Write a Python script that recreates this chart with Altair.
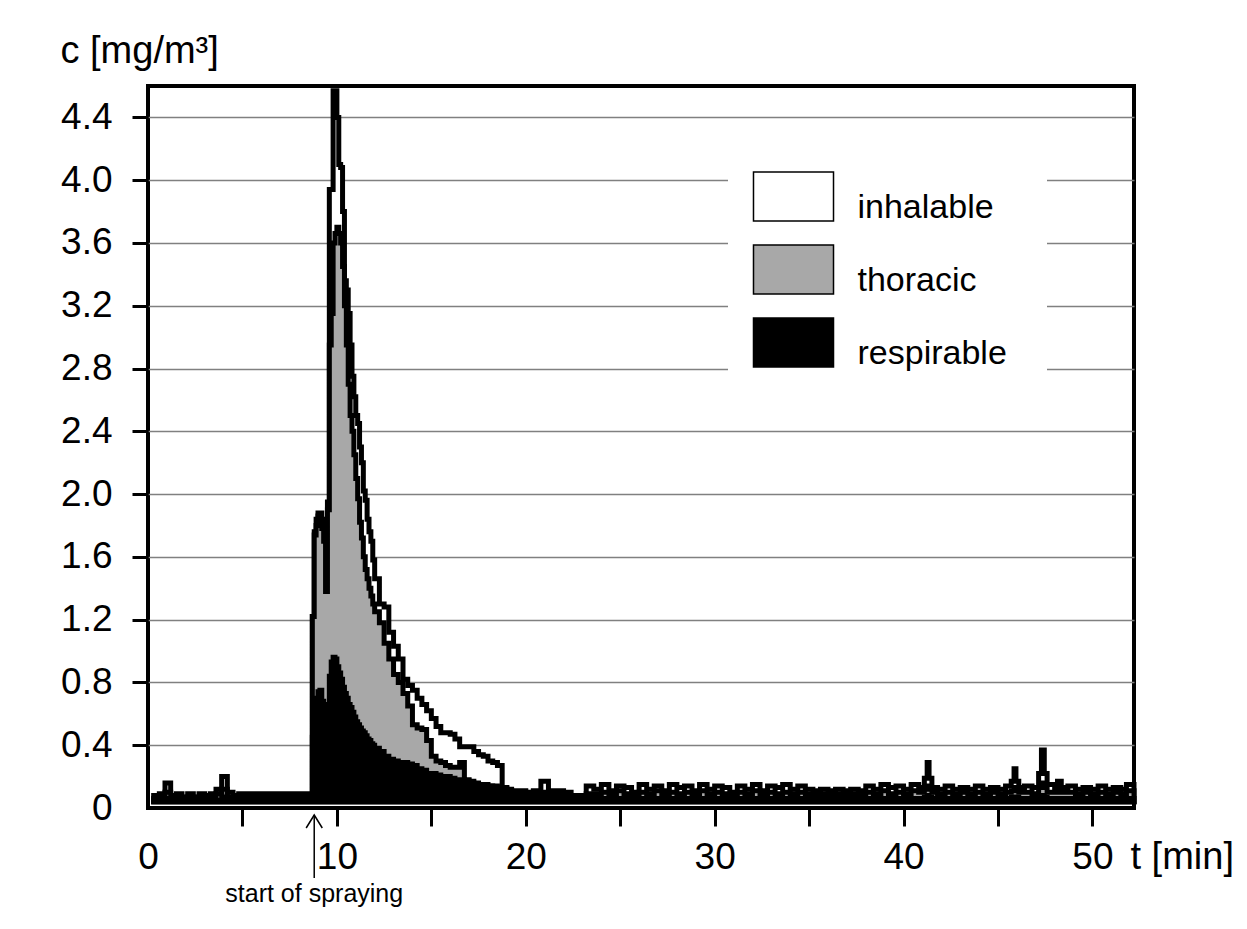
import altair as alt
import pandas as pd

FONT = "Liberation Sans"

# ---- time grid (minutes) ----
t_pre = [0.3, 0.6, 0.9, 1.2, 1.5, 1.8, 2.1, 2.4, 2.7, 3.0, 3.3, 3.6, 3.9, 4.2,
         4.5, 4.8, 5.1, 5.4, 5.7, 6.0, 6.3, 6.6, 6.9, 7.2, 7.5, 7.8, 8.1, 8.4]
t_spray = [8.7, 8.8, 8.9, 9.0, 9.1, 9.2, 9.3, 9.4, 9.5, 9.6, 9.7, 9.8, 9.9, 10.0,
           10.1, 10.2, 10.3, 10.4, 10.5, 10.6, 10.7, 10.8, 10.9, 11.0, 11.1, 11.2,
           11.3, 11.4, 11.5, 11.6, 11.7, 11.8, 11.9, 12.0]
t_decay = [12.25, 12.5, 12.75, 13.0, 13.25, 13.5, 13.75, 14.0, 14.25, 14.5, 14.75,
           15.0, 15.25, 15.5, 15.75, 16.0, 16.25, 16.5, 16.75, 17.0, 17.25, 17.5,
           17.75, 18.0, 18.25, 18.5, 18.75, 19.0, 19.25, 19.5, 19.75, 20.0]
t_tail = [20.4, 20.8, 21.2, 21.6, 22.0, 22.4, 22.8, 23.2, 23.6, 24.0, 24.4, 24.8,
          25.2, 25.6, 26.0, 26.4, 26.8, 27.2, 27.6, 28.0, 28.4, 28.8, 29.2, 29.6,
          30.0, 30.4, 30.8, 31.2, 31.6, 32.0, 32.4, 32.8, 33.2, 33.6, 34.0, 34.4,
          34.8, 35.2, 35.6, 36.0, 36.4, 36.8, 37.2, 37.6, 38.0, 38.4, 38.8, 39.2,
          39.6, 40.0, 40.4, 40.8, 41.1, 41.25, 41.35, 41.5, 41.8, 42.2, 42.6, 43.0,
          43.4, 43.8, 44.2, 44.6, 45.0, 45.4, 45.7, 45.85, 45.95, 46.1, 46.4, 46.8,
          47.15, 47.3, 47.45, 47.6, 48.0, 48.15, 48.35, 48.7, 49.1, 49.5, 49.9,
          50.3, 50.7, 51.1, 51.5, 51.8, 52.2]
time_min = t_pre + t_spray + t_decay + t_tail

# ---- concentrations c [mg/m3] ----
inhalable = [
    0.08, 0.09, 0.16, 0.08, 0.09, 0.07, 0.09, 0.07, 0.09, 0.08, 0.09, 0.12, 0.20, 0.10,
    0.08, 0.09, 0.09, 0.09, 0.09, 0.09, 0.09, 0.09, 0.09, 0.09, 0.09, 0.09, 0.09, 0.09,
    1.22, 1.76, 1.84, 1.88, 1.88, 1.84, 1.80, 1.40, 1.95, 3.94, 3.94, 4.57, 4.57, 4.40,
    4.10, 4.08, 3.80, 3.36, 3.30, 3.15, 2.95, 2.75, 2.62, 2.50, 2.45, 2.30, 2.20, 2.02,
    1.96, 1.84, 1.76, 1.70, 1.58, 1.46,
    1.30, 1.28, 1.12, 1.03, 0.95, 0.82, 0.78, 0.75, 0.70, 0.66, 0.62, 0.57, 0.52, 0.48,
    0.48, 0.47, 0.44, 0.39, 0.39, 0.39, 0.36, 0.34, 0.33, 0.30, 0.29, 0.27, 0.13, 0.12,
    0.11, 0.10, 0.11, 0.10,
    0.11, 0.17, 0.11, 0.11, 0.10, 0.08, 0.08, 0.14,
    0.12, 0.15, 0.11, 0.14, 0.13, 0.10, 0.15, 0.12, 0.14, 0.11,
    0.15, 0.13, 0.14, 0.11, 0.15, 0.12, 0.14, 0.13, 0.10, 0.14,
    0.12, 0.15, 0.11, 0.14, 0.13, 0.15, 0.12, 0.14, 0.12, 0.11,
    0.12, 0.11, 0.12, 0.11, 0.12, 0.11, 0.14, 0.12, 0.15, 0.13,
    0.14, 0.12, 0.15, 0.13,
    0.19, 0.29, 0.19, 0.13,
    0.12, 0.14, 0.12, 0.13, 0.12, 0.14, 0.12, 0.13, 0.12, 0.14,
    0.17, 0.25, 0.17, 0.13,
    0.14, 0.13,
    0.22, 0.37, 0.22, 0.15,
    0.13, 0.17, 0.13,
    0.14, 0.12, 0.13, 0.12, 0.14, 0.12, 0.13, 0.12, 0.15, 0.13,
]
thoracic = [
    0.06, 0.07, 0.10, 0.06, 0.07, 0.06, 0.07, 0.06, 0.07, 0.06, 0.07, 0.09, 0.12, 0.07,
    0.06, 0.08, 0.08, 0.08, 0.08, 0.08, 0.08, 0.08, 0.08, 0.08, 0.08, 0.08, 0.08, 0.08,
    1.22, 1.74, 1.80, 1.86, 1.84, 1.78, 1.70, 1.38, 1.90, 2.95, 3.15, 3.60, 3.66, 3.70,
    3.66, 3.60, 3.45, 3.20, 2.95, 2.70, 2.50, 2.40, 2.25, 2.10, 1.97, 1.82, 1.72, 1.60,
    1.52, 1.46, 1.40, 1.35, 1.30, 1.25,
    1.18, 1.05, 0.95, 0.85, 0.80, 0.73, 0.65, 0.53, 0.51, 0.50, 0.43, 0.33, 0.30, 0.29,
    0.27, 0.26, 0.26, 0.29, 0.18, 0.17, 0.16, 0.15, 0.15, 0.14, 0.14, 0.13, 0.12, 0.11,
    0.10, 0.10, 0.10, 0.09,
    0.10, 0.10, 0.09, 0.09, 0.08, 0.07, 0.07, 0.09,
    0.09, 0.10, 0.08, 0.11, 0.09, 0.08, 0.10, 0.09, 0.11, 0.08,
    0.10, 0.09, 0.10, 0.08, 0.11, 0.09, 0.10, 0.09, 0.08, 0.10,
    0.09, 0.11, 0.08, 0.10, 0.09, 0.10, 0.09, 0.10, 0.09, 0.09,
    0.09, 0.09, 0.09, 0.09, 0.09, 0.09, 0.10, 0.09, 0.11, 0.09,
    0.10, 0.09, 0.11, 0.10,
    0.12, 0.14, 0.12, 0.10,
    0.09, 0.10, 0.09, 0.10, 0.09, 0.10, 0.09, 0.10, 0.09, 0.10,
    0.11, 0.13, 0.11, 0.10,
    0.10, 0.09,
    0.13, 0.16, 0.13, 0.10,
    0.10, 0.12, 0.10,
    0.10, 0.09, 0.10, 0.09, 0.10, 0.09, 0.10, 0.09, 0.11, 0.10,
]
respirable = [
    0.05, 0.05, 0.06, 0.05, 0.05, 0.05, 0.05, 0.05, 0.05, 0.05, 0.05, 0.05, 0.07, 0.05,
    0.05, 0.06, 0.06, 0.06, 0.06, 0.06, 0.06, 0.06, 0.06, 0.06, 0.06, 0.06, 0.06, 0.06,
    0.45, 0.45, 0.70, 0.74, 0.75, 0.68, 0.66, 0.58, 0.56, 0.84, 0.93, 0.96, 0.95, 0.90,
    0.86, 0.82, 0.77, 0.73, 0.70, 0.66, 0.64, 0.61, 0.58, 0.55, 0.53, 0.51, 0.49, 0.48,
    0.46, 0.44, 0.43, 0.41, 0.40, 0.38,
    0.36, 0.33, 0.31, 0.30, 0.29, 0.29, 0.28, 0.27, 0.25, 0.24, 0.22, 0.22, 0.21, 0.20,
    0.20, 0.19, 0.18, 0.18, 0.17, 0.16, 0.15, 0.15, 0.14, 0.14, 0.13, 0.13, 0.12, 0.11,
    0.10, 0.09, 0.09, 0.08,
    0.08, 0.08, 0.07, 0.07, 0.06, 0.05, 0.05, 0.06,
    0.06, 0.06, 0.06, 0.06, 0.06, 0.06, 0.06, 0.06, 0.06, 0.06,
    0.06, 0.06, 0.06, 0.06, 0.06, 0.06, 0.06, 0.06, 0.06, 0.06,
    0.06, 0.06, 0.06, 0.06, 0.06, 0.06, 0.06, 0.06, 0.06, 0.06,
    0.06, 0.06, 0.06, 0.06, 0.06, 0.06, 0.06, 0.06, 0.06, 0.06,
    0.06, 0.06, 0.06, 0.06,
    0.07, 0.08, 0.07, 0.06,
    0.06, 0.06, 0.06, 0.06, 0.06, 0.06, 0.06, 0.06, 0.06, 0.06,
    0.07, 0.07, 0.07, 0.06,
    0.06, 0.06,
    0.07, 0.08, 0.07, 0.06,
    0.06, 0.06, 0.06,
    0.06, 0.06, 0.06, 0.06, 0.06, 0.06, 0.06, 0.06, 0.06, 0.06,
]

fractions = ["inhalable", "thoracic", "respirable"]
fill_colors = ["#ffffff", "#a8a8a8", "#000000"]
baseline_c = 0.04

y_ticks = [0, 0.4, 0.8, 1.2, 1.6, 2.0, 2.4, 2.8, 3.2, 3.6, 4.0, 4.4]
x_ticks = [0, 5, 10, 15, 20, 25, 30, 35, 40, 45, 50]

spray_start = [8.8]
spray_label = ["start of spraying"]

assert len(time_min) == len(inhalable) == len(thoracic) == len(respirable), (
    len(time_min), len(inhalable), len(thoracic), len(respirable))

rows = []
for name, vals in zip(fractions, [inhalable, thoracic, respirable]):
    for t, v in zip(time_min, vals):
        rows.append({"t": t, "c": v, "base": baseline_c, "fraction": name})
df = pd.DataFrame(rows)
ann = pd.DataFrame({"t": spray_start, "label": spray_label})

hide_zero = alt.condition("datum.value == 0", alt.value(0), alt.value(1))

x_axis = alt.Axis(
    values=x_ticks, title="t [min]", titleX=982, titleY=60, titleAlign="left",
    titleBaseline="alphabetic", titleFontSize=38, titleFontWeight="normal",
    titleColor="black", labelFontSize=37, labelColor="black", labelPadding=13,
    labelFlush=False, labelExpr="datum.value % 10 == 0 ? datum.label : ''",
    tickSize=18, tickWidth=3, tickColor="black", tickOpacity=hide_zero,
    domain=False, grid=False,
)
y_axis = alt.Axis(
    values=y_ticks, title="c [mg/m³]", titleAngle=0, titleX=-88, titleY=-24,
    titleAlign="left", titleBaseline="alphabetic", titleFontSize=38,
    titleFontWeight="normal", titleColor="black", labelFontSize=37,
    labelColor="black", labelPadding=20,
    labelExpr="datum.value == 0 ? '0' : format(datum.value, '.1f')",
    tickSize=16, tickWidth=3, tickColor="black", tickOpacity=hide_zero,
    domain=False, grid=True, gridColor="#808080", gridWidth=1.5,
    gridOpacity=hide_zero,
)
legend = alt.Legend(
    title=None, orient="none", legendX=580, legendY=56,
    symbolType="M-1.633,-1.45H1.633V0.55H-1.633Z", symbolSize=2401,
    symbolStrokeColor="black", symbolStrokeWidth=1.5, symbolOpacity=1,
    labelFontSize=34, labelColor="black", labelOffset=38.5, labelLimit=300,
    rowPadding=16, padding=40, fillColor="white",
)

x_enc = alt.X("t:Q", scale=alt.Scale(domain=[0, 52.2], nice=False, zero=False), axis=x_axis)
y_enc = alt.Y("c:Q", scale=alt.Scale(domain=[0, 4.6], nice=False), axis=y_axis, stack=None)
color_enc = alt.Color("fraction:N", scale=alt.Scale(domain=fractions, range=fill_colors), legend=legend)


def fraction_layer(name):
    return alt.Chart(df).transform_filter(alt.datum.fraction == name).mark_area(
        interpolate="step-after", stroke="black", strokeWidth=5, opacity=1,
        strokeJoin="miter",
    ).encode(x=x_enc, y=y_enc, y2="base:Q", color=color_enc)


arrow_line = alt.Chart(ann).mark_rule(color="black", strokeWidth=1.5).encode(
    x=x_enc, y=alt.value(729), y2=alt.value(792))
arrow_head = alt.Chart(ann).mark_point(
    shape="M-0.62,1L0,0L0.62,1", filled=False, size=676, color="black",
    strokeWidth=1.5, opacity=1).encode(x=x_enc, y=alt.value(729))
arrow_text = alt.Chart(ann).mark_text(
    fontSize=25, baseline="alphabetic", align="center", color="black").encode(
    x=x_enc, y=alt.value(816), text="label:N")

chart = alt.layer(
    fraction_layer("inhalable"), fraction_layer("thoracic"), fraction_layer("respirable"),
    arrow_line, arrow_head, arrow_text,
).properties(
    width=986, height=722,
    autosize=alt.AutoSizeParams(type="none"),
    padding={"left": 140, "top": 78, "right": 105, "bottom": 110},
    background="white",
).configure(font=FONT).configure_view(stroke="black", strokeWidth=4)

chart.save("out.html", embed_options={"renderer": "svg", "actions": False})
